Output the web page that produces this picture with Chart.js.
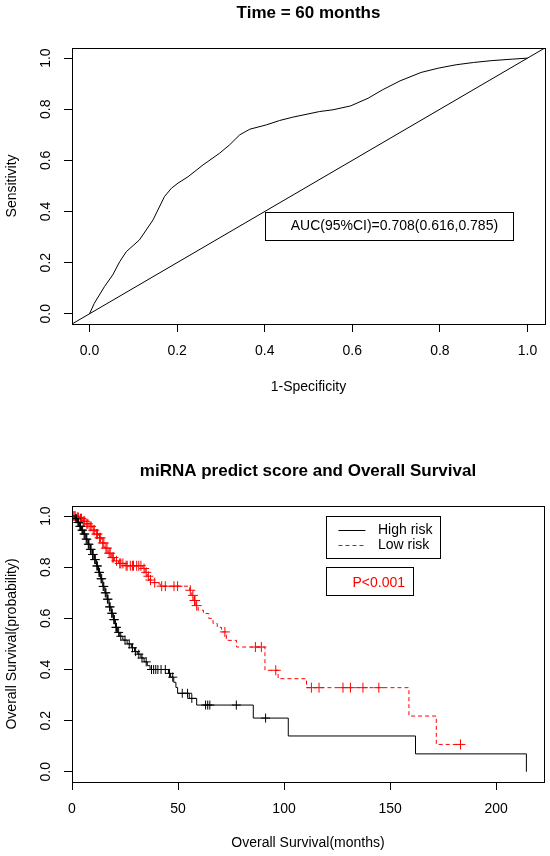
<!DOCTYPE html>
<html>
<head>
<meta charset="utf-8">
<script src="https://cdn.jsdelivr.net/npm/chart.js@4.4.1/dist/chart.umd.min.js"></script>
<style>
  html, body { margin: 0; padding: 0; background: #fff; }
  #wrap { position: relative; width: 550px; height: 856px; }
  canvas { position: absolute; left: 0; }
</style>
</head>
<body>
<div id="wrap">
  <canvas id="rocChart" width="550" height="430" style="top:0"></canvas>
  <canvas id="kmChart" width="550" height="426" style="top:430px"></canvas>
</div>
<script>
// ROC at 60 months (x = 1-specificity, y = sensitivity)
const rocFpr = [0, 0.011, 0.034, 0.053, 0.069, 0.084, 0.114, 0.145, 0.171, 0.187, 0.202, 0.225, 0.259, 0.297, 0.320, 0.343, 0.366, 0.404, 0.434, 0.464, 0.525, 0.556, 0.596, 0.636, 0.669, 0.709, 0.757, 0.797, 0.837, 0.877, 0.917, 0.965, 1.0];
const rocSens = [0, 0.041, 0.106, 0.152, 0.204, 0.243, 0.289, 0.367, 0.458, 0.491, 0.511, 0.536, 0.582, 0.628, 0.661, 0.700, 0.722, 0.739, 0.756, 0.769, 0.791, 0.798, 0.813, 0.843, 0.876, 0.911, 0.944, 0.961, 0.974, 0.983, 0.990, 0.996, 1.0];
const refLine = [-0.04, 1.04];
const rocTicks = [0, 0.2, 0.4, 0.6, 0.8, 1.0];
const aucText = "AUC(95%CI)=0.708(0.616,0.785)";

// Kaplan-Meier, High risk
const highTime = [0, 1.5, 2.5, 3.5, 4.5, 5.5, 6.5, 7.5, 8.5, 9.5, 10.5, 11.5, 12.5, 13.5, 14.5, 15.5, 16.5, 17.5, 18.5, 19.5, 20.5, 21.5, 22.5, 24, 26, 28, 29.5, 31, 32.5, 34, 35.5, 36.8, 45.5, 46.5, 48, 49, 49.8, 55.3, 58.8, 85.5, 102, 162, 214.3];
const highSurv = [1, .99, .975, .96, .945, .93, .91, .89, .87, .85, .83, .805, .78, .755, .725, .70, .675, .645, .62, .595, .565, .545, .53, .515, .50, .485, .47, .46, .445, .43, .415, .40, .385, .37, .35, .33, .307, .287, .261, .21, .14, .07, 0];
const highCensTime = [1.8, 2, 2.8, 3, 3.7, 4, 4.7, 5, 5.7, 6, 6.7, 7, 7.7, 8, 8.7, 9, 9.7, 10, 10.7, 11, 11.7, 12, 12.7, 13, 13.7, 14, 14.7, 15, 15.7, 16, 16.7, 17, 17.7, 18, 18.7, 19, 19.7, 20, 20.7, 21, 22, 23, 25, 27, 28.5, 30, 31.5, 33, 35, 37.5, 38.5, 39.5, 40.5, 42, 44, 46, 47.5, 52, 54.5, 56.5, 63, 64, 65, 77.5, 91.3];
const highCensSurv = [.99, .99, .975, .975, .96, .96, .945, .945, .93, .93, .91, .91, .89, .89, .87, .87, .85, .85, .83, .83, .805, .805, .78, .78, .755, .755, .725, .725, .70, .70, .675, .675, .645, .645, .62, .62, .595, .595, .565, .565, .545, .53, .515, .50, .485, .47, .46, .445, .43, .40, .40, .40, .40, .40, .40, .385, .37, .307, .307, .287, .261, .261, .261, .261, .21];

// Kaplan-Meier, Low risk
const lowTime = [0, 2, 3.5, 5, 6.5, 8, 9.5, 11, 12.5, 14, 15.5, 17, 18.5, 20, 22, 25, 33.5, 34.5, 35.5, 36.5, 38, 40, 41.6, 55.5, 56.5, 57.5, 58.5, 59.5, 62, 64.5, 66.5, 68.5, 70.5, 72.8, 77.6, 91, 97.2, 110.6, 158.9, 171.8, 183.2];
const lowSurv = [1, .995, .99, .98, .97, .96, .945, .93, .915, .895, .875, .855, .838, .825, .815, .806, .795, .78, .765, .75, .74, .735, .726, .71, .69, .67, .65, .632, .619, .60, .58, .565, .547, .514, .488, .397, .364, .329, .218, .107, .107];
const lowCensTime = [0.5, 1, 1.5, 2.5, 3, 4, 4.5, 5.5, 6, 7, 7.5, 8.5, 9, 10, 10.5, 11.5, 12, 13, 13.5, 14.5, 15, 16, 16.5, 17.5, 18, 19, 19.5, 21, 22.5, 23, 24, 25.5, 26, 27.5, 28.5, 29, 30.5, 31.5, 32.5, 34, 35, 36, 37, 39, 42.3, 44, 48.1, 49.8, 55.8, 57, 57.8, 58, 58.8, 72.1, 86.5, 89.3, 96.1, 112.9, 116.5, 127.8, 131.3, 137.2, 144.7, 183.2];
const lowCensSurv = [1, 1, 1, .995, .995, .99, .99, .98, .98, .97, .97, .96, .96, .945, .945, .93, .93, .915, .915, .895, .895, .875, .875, .855, .855, .838, .838, .825, .815, .815, .815, .806, .806, .806, .806, .806, .806, .806, .806, .795, .78, .765, .75, .74, .726, .726, .726, .726, .71, .69, .67, .67, .65, .547, .488, .488, .397, .329, .329, .329, .329, .329, .329, .107];
const kmXTicks = [0, 50, 100, 150, 200];
const kmYTicks = [0, 0.2, 0.4, 0.6, 0.8, 1.0];
const groups = ["High risk", "Low risk"];
const pText = "P<0.001";

const FONT = "'Liberation Sans', Arial, sans-serif";
Chart.defaults.font.family = FONT;
Chart.defaults.font.size = 14;
Chart.defaults.color = "#000";

const pts = (xs, ys) => xs.map((x, i) => ({ x: x, y: ys[i] }));

function xAxis(min, max, ticks, fmt, title, height, titlePad) {
  return {
    type: "linear", min: min, max: max,
    afterBuildTicks: s => { s.ticks = ticks.map(v => ({ value: v })); },
    afterFit: s => { s.height = height; },
    grid: { drawOnChartArea: false, drawTicks: true, tickLength: 8, color: "#000" },
    border: { display: false },
    ticks: { padding: 10.6, maxRotation: 0, autoSkip: false, callback: v => fmt(v) },
    title: { display: true, text: title, padding: { top: 0, bottom: titlePad } }
  };
}

function yAxis(ticks, title) {
  return {
    type: "linear", min: -0.04, max: 1.04,
    afterBuildTicks: s => { s.ticks = ticks.map(v => ({ value: v })); },
    afterFit: s => { s.width = 72; },
    grid: { drawOnChartArea: false, drawTicks: true, tickLength: 8, color: "#000" },
    border: { display: false },
    ticks: { display: false },
    title: { display: true, text: title, padding: { top: 4, bottom: 0 } }
  };
}

// box around plot + R-style vertical y tick labels
function drawFrame(chart, yTicks) {
  const { ctx, chartArea: a, scales: { y } } = chart;
  ctx.save();
  ctx.strokeStyle = "#000";
  ctx.lineWidth = 1;
  ctx.strokeRect(Math.round(a.left) + 0.5, Math.round(a.top) + 0.5, Math.round(a.right - a.left), Math.round(a.bottom - a.top));
  ctx.fillStyle = "#000";
  ctx.font = "14px " + FONT;
  ctx.textAlign = "center";
  ctx.textBaseline = "middle";
  yTicks.forEach(v => {
    ctx.save();
    ctx.translate(46.5, y.getPixelForValue(v));
    ctx.rotate(-Math.PI / 2);
    ctx.fillText(v.toFixed(1), 0, 0);
    ctx.restore();
  });
  ctx.restore();
}

function boxAt(ctx, x, y, w, h) {
  ctx.strokeRect(Math.round(x) + 0.5, Math.round(y) + 0.5, Math.round(w), Math.round(h));
}

const rocDecor = {
  id: "rocDecor",
  afterDraw(chart) {
    drawFrame(chart, rocTicks);
    const { ctx, scales: { x, y } } = chart;
    const bx = x.getPixelForValue(0.4), by = y.getPixelForValue(0.4);
    ctx.save();
    ctx.strokeStyle = "#000";
    ctx.lineWidth = 1;
    boxAt(ctx, bx, by, 248, 28);
    ctx.fillStyle = "#000";
    ctx.font = "14px " + FONT;
    ctx.textBaseline = "middle";
    ctx.fillText(aucText, bx + 26, by + 15);
    ctx.restore();
  }
};

new Chart(document.getElementById("rocChart"), {
  type: "line",
  data: {
    datasets: [
      { data: pts(rocFpr, rocSens), borderColor: "#000", borderWidth: 1, pointRadius: 0, tension: 0 },
      { data: pts(refLine, refLine), borderColor: "#000", borderWidth: 1, pointRadius: 0 }
    ]
  },
  options: {
    responsive: false,
    animation: false,
    layout: { padding: { left: 0, right: 5, top: 0, bottom: 0 } },
    plugins: {
      legend: { display: false },
      tooltip: { enabled: false },
      title: { display: true, text: "Time = 60 months", fullSize: false, font: { size: 17, weight: "bold" }, padding: { top: 3.5, bottom: 24 } }
    },
    scales: {
      x: xAxis(-0.04, 1.04, rocTicks, v => v.toFixed(1), "1-Specificity", 106, 34.6),
      y: yAxis(rocTicks, "Sensitivity")
    }
  },
  plugins: [rocDecor]
});

const kmDecor = {
  id: "kmDecor",
  afterDraw(chart) {
    drawFrame(chart, kmYTicks);
    const { ctx, scales: { x, y } } = chart;
    const bx = x.getPixelForValue(120);
    const by = y.getPixelForValue(1.0);
    ctx.save();
    ctx.strokeStyle = "#000";
    ctx.lineWidth = 1;
    boxAt(ctx, bx, by, 114, 42);
    ctx.beginPath();
    ctx.moveTo(bx + 12, Math.round(by + 14) + 0.5);
    ctx.lineTo(bx + 39, Math.round(by + 14) + 0.5);
    ctx.stroke();
    ctx.strokeStyle = "#ff0000";
    ctx.setLineDash([4, 3]);
    ctx.beginPath();
    ctx.moveTo(bx + 12, Math.round(by + 29) + 0.5);
    ctx.lineTo(bx + 39, Math.round(by + 29) + 0.5);
    ctx.stroke();
    ctx.setLineDash([]);
    ctx.fillStyle = "#000";
    ctx.font = "14px " + FONT;
    ctx.textBaseline = "middle";
    ctx.fillText(groups[0], bx + 51.5, by + 14);
    ctx.fillText(groups[1], bx + 51.5, by + 29);
    const py = y.getPixelForValue(0.8);
    ctx.strokeStyle = "#000";
    boxAt(ctx, bx, py, 86.5, 28.3);
    ctx.fillStyle = "#ff0000";
    ctx.fillText(pText, bx + 26, py + 15.5);
    ctx.restore();
  }
};

new Chart(document.getElementById("kmChart"), {
  type: "line",
  data: {
    datasets: [
      { label: groups[0], data: pts(highTime, highSurv), stepped: true, borderColor: "#000", borderWidth: 1, pointRadius: 0 },
      { label: groups[1], data: pts(lowTime, lowSurv), stepped: true, borderColor: "#ff0000", borderWidth: 1, borderDash: [4, 3], pointRadius: 0 },
      { data: pts(highCensTime, highCensSurv), showLine: false, pointStyle: "cross", pointRadius: 4.5, borderColor: "#000", borderWidth: 1 },
      { data: pts(lowCensTime, lowCensSurv), showLine: false, pointStyle: "cross", pointRadius: 5, borderColor: "#ff0000", borderWidth: 1 }
    ]
  },
  options: {
    responsive: false,
    animation: false,
    layout: { padding: { left: 0, right: 5, top: 0, bottom: 0 } },
    plugins: {
      legend: { display: false },
      tooltip: { enabled: false },
      title: { display: true, text: "miRNA predict score and Overall Survival", fullSize: false, font: { size: 17, weight: "bold" }, padding: { top: 31.5, bottom: 24 } }
    },
    scales: {
      x: xAxis(0, 222.6, kmXTicks, v => String(v), "Overall Survival(months)", 74, 4.6),
      y: yAxis(kmYTicks, "Overall Survival(probability)")
    }
  },
  plugins: [kmDecor]
});
</script>
</body>
</html>
